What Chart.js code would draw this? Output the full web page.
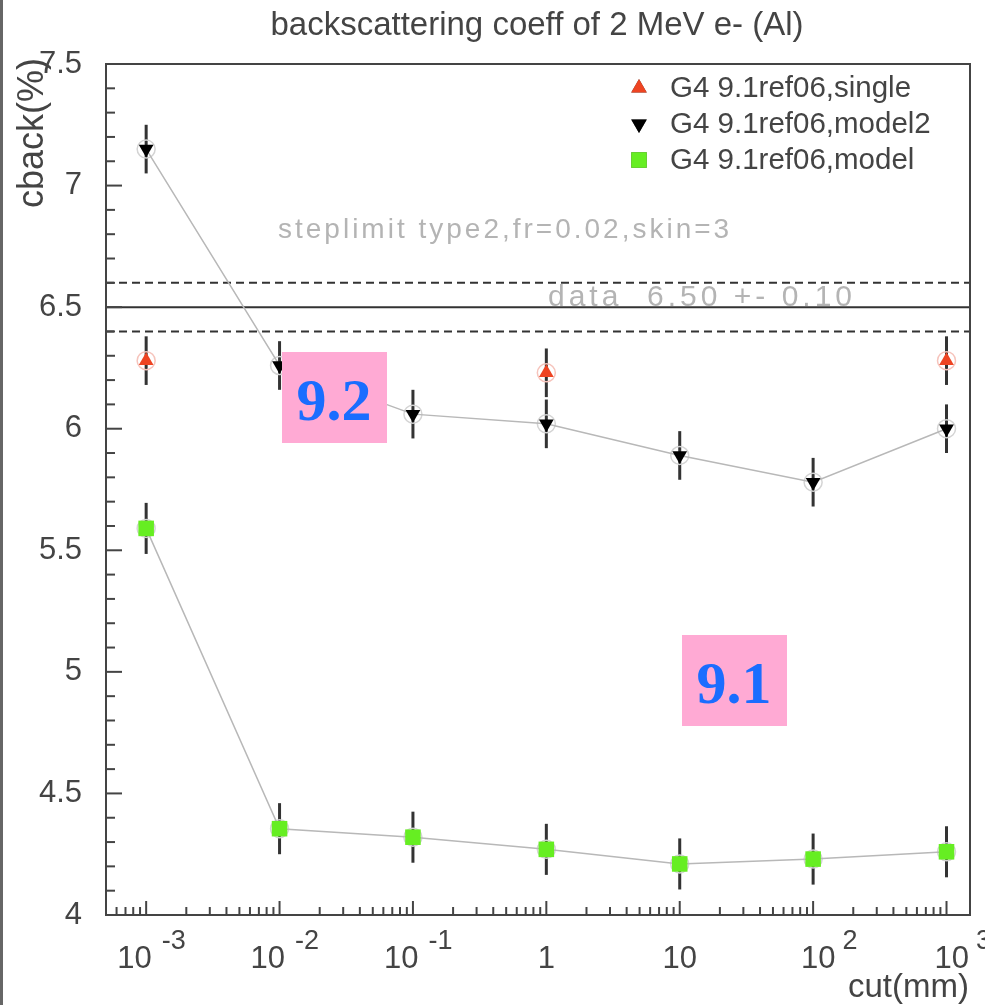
<!DOCTYPE html>
<html>
<head>
<meta charset="utf-8">
<script src="https://cdn.jsdelivr.net/npm/chart.js@4/dist/chart.umd.min.js"></script>
<style>
  body { margin: 0; background: #fff; }
  #wrap { width: 985px; height: 1005px; position: relative; }
</style>
</head>
<body>
<div id="wrap"><canvas id="myChart"></canvas></div>
<script>
// data
const cuts = [1e-3, 1e-2, 1e-1, 1, 10, 100, 1000];
const singleCuts = [1e-3, 1, 1000];
const singleVals = [6.28, 6.23, 6.28];
const singleErr = [0.1, 0.1, 0.1];
const model2Vals = [7.15, 6.26, 6.06, 6.02, 5.89, 5.78, 6.0];
const model2Err = [0.1, 0.1, 0.1, 0.1, 0.1, 0.1, 0.1];
const modelVals = [5.59, 4.355, 4.32, 4.27, 4.21, 4.23, 4.26];
const modelErr = [0.105, 0.105, 0.105, 0.105, 0.105, 0.105, 0.105];
const xExps = [-3, -2, -1, 0, 1, 2, 3];
const seriesNames = ["G4 9.1ref06,single", "G4 9.1ref06,model2", "G4 9.1ref06,model"];
const dataVal = 6.5;
const dataErr = 0.1;

const FONT = "'Liberation Sans', Arial, sans-serif";

function pts(xs, ys) {
  return xs.map((x, i) => ({x: x, y: ys[i]}));
}

//extras drawn with the chart's own scales
const extras = {
  id: 'extras',
  beforeDatasetsDraw(chart) {
    const ctx = chart.ctx;
    const xs = chart.scales.x, ys = chart.scales.y;
    const a = chart.chartArea;
    ctx.save();
    // reference value lines
    ctx.strokeStyle = '#333';
    ctx.lineWidth = 2;
    ctx.beginPath();
    ctx.moveTo(a.left, ys.getPixelForValue(dataVal));
    ctx.lineTo(a.right, ys.getPixelForValue(dataVal));
    ctx.stroke();
    ctx.setLineDash([8, 5]);
    [dataVal + dataErr, dataVal - dataErr].forEach(v => {
      ctx.beginPath();
      ctx.moveTo(a.left, ys.getPixelForValue(v));
      ctx.lineTo(a.right, ys.getPixelForValue(v));
      ctx.stroke();
    });
    ctx.setLineDash([]);

    // texts inside the frame
    ctx.fillStyle = '#b4b4b4';
    ctx.font = '28px ' + FONT;
    ctx.letterSpacing = '3px';
    ctx.textBaseline = 'alphabetic';
    ctx.textAlign = 'left';
    ctx.fillText('steplimit type2,fr=0.02,skin=3', 278, 238);
    ctx.font = '30px ' + FONT;
    ctx.letterSpacing = '4px';
    ctx.fillText('data  6.50 +- 0.10', 548, 306);
    ctx.letterSpacing = '0px';

    // error bars + hollow circles
    const errs = [singleErr, model2Err, modelErr];
    chart.data.datasets.forEach((ds, k) => {
      ds.data.forEach((p, i) => {
        const px = xs.getPixelForValue(p.x);
        ctx.strokeStyle = '#333';
        ctx.lineWidth = 3;
        ctx.beginPath();
        ctx.moveTo(px, ys.getPixelForValue(p.y + errs[k][i]));
        ctx.lineTo(px, ys.getPixelForValue(p.y - errs[k][i]));
        ctx.stroke();
        ctx.strokeStyle = k === 0 ? '#f6c4bc' : '#d4d4d4';
        ctx.lineWidth = 1.5;
        ctx.beginPath();
        ctx.arc(px, ys.getPixelForValue(p.y), 9, 0, Math.PI * 2);
        ctx.stroke();
      });
    });
    ctx.restore();
  },
  afterDraw(chart) {
    const ctx = chart.ctx;
    const xs = chart.scales.x, ys = chart.scales.y;
    const a = chart.chartArea;
    ctx.save();
    // left edge line of the picture
    ctx.fillStyle = '#666';
    ctx.fillRect(0, 0, 3, chart.height);

    // frame
    ctx.strokeStyle = '#444';
    ctx.lineWidth = 2;
    ctx.strokeRect(a.left, a.top, a.right - a.left, a.bottom - a.top);

    // y ticks (inward)
    for (let i = 40; i <= 75; i++) {
      const py = ys.getPixelForValue(i / 10);
      const len = i % 5 === 0 ? 16 : 9;
      ctx.beginPath();
      ctx.moveTo(a.left, py);
      ctx.lineTo(a.left + len, py);
      ctx.stroke();
    }
    // x ticks, log
    for (let e = -4; e <= 3; e++) {
      for (let m = 1; m <= 9; m++) {
        const v = m * Math.pow(10, e);
        if (v < xs.min || v > xs.max) continue;
        const px = xs.getPixelForValue(v);
        const len = m === 1 ? 14 : 8;
        ctx.beginPath();
        ctx.moveTo(px, a.bottom);
        ctx.lineTo(px, a.bottom - len);
        ctx.stroke();
      }
    }

    // x tick labels
    ctx.fillStyle = '#444';
    ctx.textBaseline = 'middle';
    ctx.textAlign = 'left';
    xExps.forEach(e => {
      const px = xs.getPixelForValue(Math.pow(10, e));
      if (e === 0 || e === 1) {
        ctx.font = '31px ' + FONT;
        ctx.textAlign = 'center';
        ctx.fillText(e === 0 ? '1' : '10', px, 959);
        ctx.textAlign = 'left';
        return;
      }
      const left = px - (e < 0 ? 29 : 12);
      ctx.font = '31px ' + FONT;
      ctx.fillText('10', left, 959);
      const w = ctx.measureText('10').width;
      ctx.font = '27px ' + FONT;
      ctx.fillText(String(e), left + w + (e < 0 ? 10 : 7), 942);
    });

    // axis titles
    ctx.font = '33px ' + FONT;
    ctx.textAlign = 'right';
    ctx.fillText('cut(mm)', 969, 988);
    ctx.save();
    ctx.translate(33, 58);
    ctx.rotate(-Math.PI / 2);
    ctx.textAlign = 'right';
    ctx.font = '36px ' + FONT;
    ctx.fillText('cback(%)', 0, 0);
    ctx.restore();

    // title
    ctx.textAlign = 'center';
    ctx.font = '33px ' + FONT;
    ctx.fillText('backscattering coeff of 2 MeV e- (Al)', 537, 26);

    // legend
    const rows = [88, 124, 160];
    chart.data.datasets.forEach((ds, k) => {
      Chart.helpers.drawPoint(ctx, {
        pointStyle: ds.pointStyle,
        rotation: ds.rotation || 0,
        radius: ds.pointStyle === 'rect' ? 11 : 9,
        borderWidth: 0
      }, 639, rows[k]);
      ctx.fillStyle = ds.backgroundColor;
      ctx.fill();
      ctx.fillStyle = '#444';
      ctx.font = '29.5px ' + FONT;
      ctx.textAlign = 'left';
      ctx.fillText(seriesNames[k], 670, rows[k] + 1);
    });

    // version boxes
    [['9.2', 282, 352], ['9.1', 682, 635]].forEach(b => {
      ctx.fillStyle = '#ffaad4';
      ctx.fillRect(b[1], b[2], 105, 91);
      ctx.fillStyle = '#1a6dff';
      ctx.font = "bold 60px 'Liberation Serif', 'Times New Roman', serif";
      ctx.textAlign = 'center';
      ctx.textBaseline = 'alphabetic';
      ctx.fillText(b[0], b[1] + 52, b[2] + 68);
      ctx.textBaseline = 'middle';
    });
    ctx.restore();
  }
};

const ctx1 = document.getElementById('myChart');

new Chart(ctx1, {
  type: 'scatter',
  data: {
    datasets: [{
      label: seriesNames[0],
      data: pts(singleCuts, singleVals),
      pointStyle: 'triangle',
      pointRadius: 8.5,
      backgroundColor: '#ee4422',
      borderColor: '#ee4422',
      borderWidth: 0,
      showLine: false
    }, {
      label: seriesNames[1],
      data: pts(cuts, model2Vals),
      pointStyle: 'triangle',
      rotation: 180,
      pointRotation: 180,
      pointRadius: 8.5,
      pointBackgroundColor: '#000',
      pointBorderWidth: 0,
      backgroundColor: '#000',
      borderColor: '#b8b8b8',
      borderWidth: 1.5,
      showLine: true
    }, {
      label: seriesNames[2],
      data: pts(cuts, modelVals),
      pointStyle: 'rect',
      pointRadius: 11,
      pointBackgroundColor: '#66ee22',
      pointBorderWidth: 0,
      backgroundColor: '#66ee22',
      borderColor: '#b8b8b8',
      borderWidth: 1.5,
      showLine: true
    }]
  },
  options: {
    responsive: true,
    maintainAspectRatio: false,
    animation: false,
    layout: { padding: { top: 64, right: 15, left: 0, bottom: 0 } },
    plugins: {
      legend: { display: false },
      tooltip: { enabled: false }
    },
    scales: {
      x: {
        type: 'logarithmic',
        min: 0.0005,
        max: 1500,
        grid: { display: false },
        border: { display: false },
        ticks: { display: false },
        afterFit: (s) => { s.height = 90; }
      },
      y: {
        min: 4,
        max: 7.5,
        grid: { display: false, drawTicks: false },
        border: { display: false },
        ticks: {
          stepSize: 0.5,
          padding: 24,
          color: '#444',
          font: { size: 31, family: FONT },
          callback: (v) => String(v)
        },
        afterFit: (s) => { s.width = 106; }
      }
    }
  },
  plugins: [extras]
});
</script>
</body>
</html>
